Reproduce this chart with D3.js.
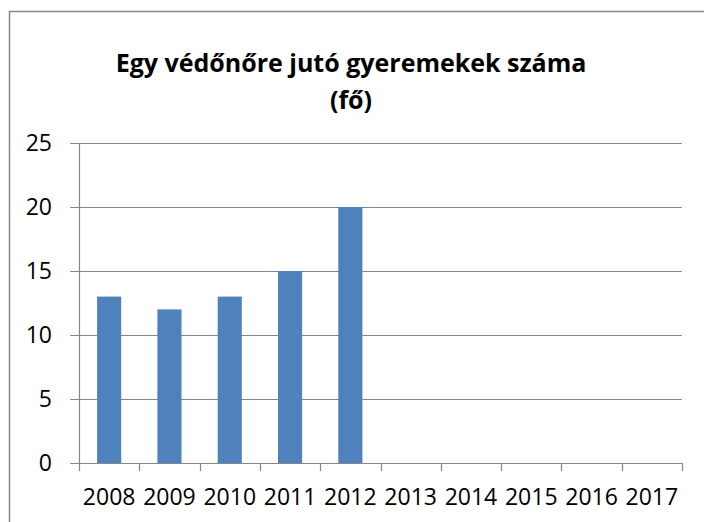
<!DOCTYPE html>
<html>
<head>
<meta charset="utf-8">
<script src="https://cdn.jsdelivr.net/npm/d3@7"></script>
<style>
  body { margin: 0; background: #fff; }
  svg { display: block; }
</style>
</head>
<body>
<div id="chart"></div>
<script>
// Chart data
var years = ["2008", "2009", "2010", "2011", "2012", "2013", "2014", "2015", "2016", "2017"];
var values = [13, 12, 13, 15, 20, null, null, null, null, null];
var yTicks = [0, 5, 10, 15, 20, 25];
var titleLines = ["Egy védőnőre jutó gyeremekek száma", "(fő)"];

var W = 704, H = 522;
var margin = {top: 143, right: 22, bottom: 59, left: 79},
    width = W - margin.left - margin.right,
    height = H - margin.top - margin.bottom;

var svg = d3.select("#chart")
  .append("svg")
    .attr("width", W)
    .attr("height", H);

// Outer chart border (right and bottom run off the picture)
svg.append("rect")
  .attr("x", 9.5)
  .attr("y", 11.5)
  .attr("width", W)
  .attr("height", H)
  .attr("fill", "none")
  .attr("stroke", "#888888")
  .attr("stroke-width", 1.5);

// Title
svg.append("text")
  .attr("x", 351)
  .attr("y", 72)
  .attr("text-anchor", "middle")
  .style("font-family", "'Open Sans', sans-serif")
  .style("font-weight", "bold")
  .style("font-size", "25px")
  .selectAll("tspan")
  .data(titleLines)
  .enter().append("tspan")
    .attr("x", 351)
    .attr("dy", (d, i) => i === 0 ? 0 : 37)
    .text(d => d);

var g = svg.append("g")
  .attr("transform", `translate(${margin.left},${margin.top})`);

var x = d3.scaleBand()
  .domain(years)
  .range([0, width])
  .paddingInner(0.6)
  .paddingOuter(0.3);

var y = d3.scaleLinear()
  .domain([0, 25])
  .range([height, 0]);

// Gridlines
g.append("g")
  .selectAll("line")
  .data(yTicks)
  .enter().append("line")
    .attr("x1", -9)
    .attr("x2", width)
    .attr("y1", d => Math.round(y(d)) + 0.5)
    .attr("y2", d => Math.round(y(d)) + 0.5)
    .attr("stroke", "#878787")
    .attr("stroke-width", 1.2);

// Y axis line
g.append("line")
  .attr("x1", 0.5).attr("x2", 0.5)
  .attr("y1", 0).attr("y2", height)
  .attr("stroke", "#878787")
  .attr("stroke-width", 1.2);

// Y labels
g.append("g")
  .selectAll("text")
  .data(yTicks)
  .enter().append("text")
    .attr("x", -27)
    .attr("y", d => y(d))
    .attr("dy", "0.36em")
    .attr("text-anchor", "end")
    .style("font-family", "'Open Sans', sans-serif")
    .style("font-size", "23px")
    .style("fill", "#000")
    .text(d => d);

// Bars
g.append("g")
  .selectAll("rect")
  .data(years.map((d, i) => ({year: d, value: values[i]})).filter(d => d.value != null))
  .enter().append("rect")
    .attr("x", d => x(d.year))
    .attr("y", d => y(d.value))
    .attr("width", x.bandwidth())
    .attr("height", d => height - y(d.value))
    .attr("fill", "#4F81BD");

// X axis ticks at category boundaries
var step = width / years.length;
g.append("g")
  .selectAll("line")
  .data(d3.range(years.length + 1))
  .enter().append("line")
    .attr("x1", d => Math.round(d * step) + 0.5)
    .attr("x2", d => Math.round(d * step) + 0.5)
    .attr("y1", height)
    .attr("y2", height + 8)
    .attr("stroke", "#878787")
    .attr("stroke-width", 1.2);

// X labels
g.append("g")
  .selectAll("text")
  .data(years)
  .enter().append("text")
    .attr("x", d => x(d) + x.bandwidth() / 2)
    .attr("y", height + 42)
    .attr("text-anchor", "middle")
    .style("font-family", "'Open Sans', sans-serif")
    .style("font-size", "23px")
    .style("fill", "#000")
    .text(d => d);
</script>
</body>
</html>
